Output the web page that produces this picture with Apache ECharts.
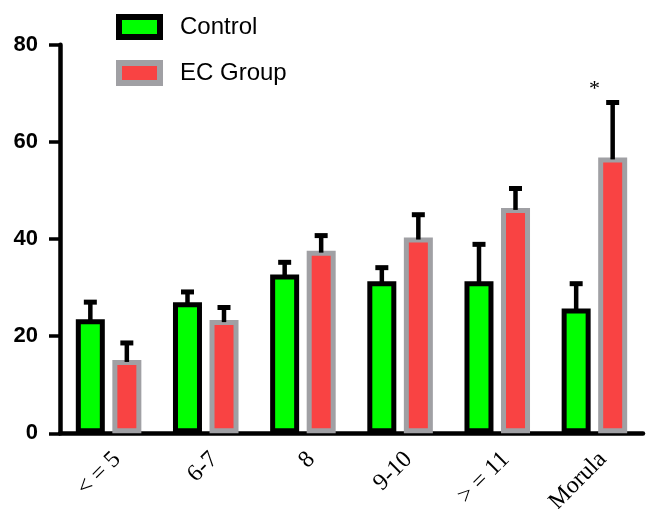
<!DOCTYPE html>
<html>
<head>
<meta charset="utf-8">
<script src="https://cdn.jsdelivr.net/npm/echarts@6/dist/echarts.min.js"></script>
<style>html,body{margin:0;padding:0;background:#fff}#c{width:647px;height:509px}</style>
</head>
<body>
<div id="c"></div>
<script>
const categories = ['< = 5', '6-7', '8', '9-10', '> = 11', 'Morula'];
const controlMean = [23.5, 27.0, 32.7, 31.3, 31.3, 25.7];
const controlSD   = [3.5, 2.1, 2.5, 2.8, 7.6, 5.1];
const ecMean      = [15.1, 23.3, 37.6, 40.3, 46.4, 56.8];
const ecSD        = [3.5, 2.6, 3.1, 4.7, 4.0, 11.3];
const ecAnnotations = ['', '', '', '', '', '*'];
const yTicks = [0, 20, 40, 60, 80];

const chart = echarts.init(document.getElementById('c'), null, {renderer: 'canvas'});

function errSeries(name, means, sds, offset) {
  return {
    type: 'custom', name: name, z: 10, silent: true,
    data: means.map((m, i) => [i, m, m + sds[i]]),
    renderItem: function (params, api) {
      const i = api.value(0);
      const base = api.coord([i, api.value(1)]);
      const top = api.coord([i, api.value(2)]);
      const x = base[0] + offset;
      return {
        type: 'group',
        children: [
          {type: 'line', shape: {x1: x, y1: base[1] + 2, x2: x, y2: top[1]}, style: {stroke: '#000', lineWidth: 4.5}},
          {type: 'line', shape: {x1: x - 6.5, y1: top[1], x2: x + 6.5, y2: top[1]}, style: {stroke: '#000', lineWidth: 5}}
        ]
      };
    }
  };
}

const option = {
  animation: false,
  backgroundColor: '#fff',
  grid: {left: 60, right: 4, top: 44.7, bottom: 75.7, containLabel: false, outerBoundsMode: 'none'},
  legend: {
    orient: 'vertical',
    left: 111, top: 9,
    icon: 'rect',
    itemWidth: 41, itemHeight: 20, itemGap: 20,
    data: [
      {name: 'Control', itemStyle: {color: '#00FF00', borderColor: '#000', borderWidth: 6}},
      {name: 'EC Group', itemStyle: {color: '#F94343', borderColor: '#A0A0A4', borderWidth: 6}}
    ],
    textStyle: {fontFamily: 'Liberation Sans', fontSize: 24, color: '#000', padding: [0, 0, 0, 15]}
  },
  xAxis: {
    type: 'category',
    data: categories,
    axisLine: {lineStyle: {color: '#000', width: 4.5}},
    axisTick: {alignWithLabel: true, length: 10, lineStyle: {color: '#000', width: 3.5}},
    axisLabel: {rotate: 45, margin: 14, align: 'right', verticalAlign: 'top', fontFamily: 'Liberation Serif', fontSize: 24, color: '#000'}
  },
  yAxis: {
    type: 'value', min: yTicks[0], max: yTicks[yTicks.length - 1], interval: 20,
    splitLine: {show: false},
    axisLine: {show: true, lineStyle: {color: '#000', width: 4.5}},
    axisTick: {show: true, length: 11, lineStyle: {color: '#000', width: 3.5}},
    axisLabel: {margin: 22, fontFamily: 'Liberation Sans', fontWeight: 'bold', fontSize: 22, color: '#000'}
  },
  series: [
    {
      name: 'Control', type: 'bar', data: controlMean, barWidth: 29, barGap: '26%',
      itemStyle: {color: '#00FF00', borderColor: '#000', borderWidth: 5}
    },
    {
      name: 'EC Group', type: 'bar', data: ecMean, barWidth: 29, barGap: '26%',
      itemStyle: {color: '#F94343', borderColor: '#A0A0A4', borderWidth: 5}
    },
    errSeries('Control err', controlMean, controlSD, -18.25),
    errSeries('EC err', ecMean, ecSD, 18.25),
    {
      type: 'custom', name: 'annot', z: 11, silent: true,
      data: ecMean.map((m, i) => [i, m + ecSD[i], ecAnnotations[i]]),
      renderItem: function (params, api) {
        const i = api.value(0);
        const txt = ecAnnotations[i];
        if (!txt) return null;
        const p = api.coord([i, api.value(1)]);
        return {type: 'text', style: {text: txt, x: p[0], y: p[1] - 2, align: 'center', verticalAlign: 'bottom', font: '22px "Liberation Serif"', fill: '#000'}};
      }
    }
  ]
};
chart.setOption(option);
</script>
</body>
</html>
